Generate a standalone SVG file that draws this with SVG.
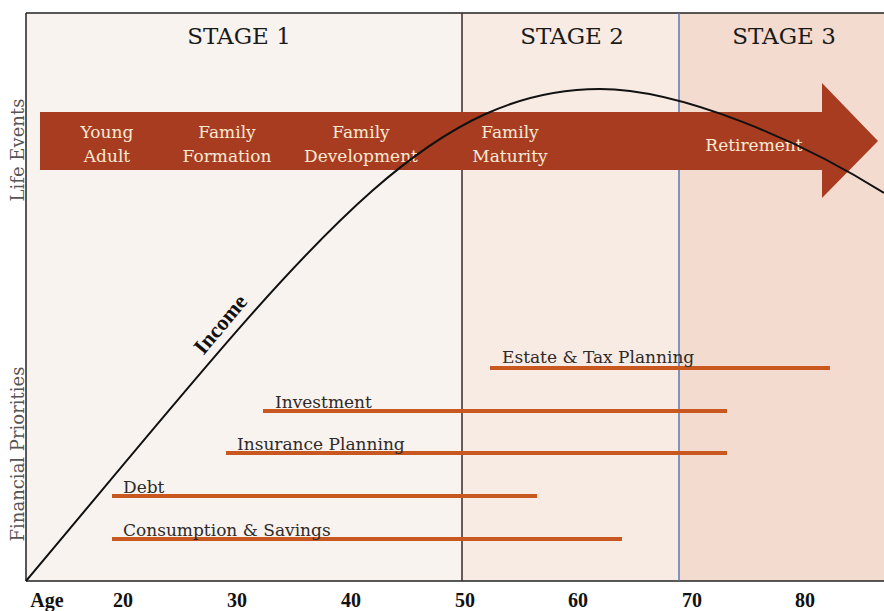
<svg xmlns="http://www.w3.org/2000/svg" width="884" height="611" viewBox="0 0 884 611">
<style>
.stage{font-family:"DejaVu Serif","Liberation Serif",serif;font-size:23px;fill:#1a1a1a;text-anchor:middle}
.ev{font-family:"DejaVu Serif","Liberation Serif",serif;font-size:17px;fill:#f7e9d3;text-anchor:middle}
.pr{font-family:"DejaVu Serif","Liberation Serif",serif;font-size:17px;fill:#2e2a28}
.side{font-family:"DejaVu Serif","Liberation Serif",serif;font-size:18px;fill:#555;text-anchor:middle}
.age{font-family:"Liberation Serif",serif;font-size:20px;font-weight:bold;fill:#111;text-anchor:middle}
.bar{stroke:#c8581f;stroke-width:4;fill:none}
</style>
<rect x="0" y="0" width="884" height="611" fill="#ffffff"/>
<g id="backgrounds">
<rect x="26" y="13" width="436" height="568" fill="#f9f3f0"/>
<rect x="462" y="13" width="217" height="568" fill="#f7ebe3"/>
<rect x="679" y="13" width="205" height="568" fill="#f3dccf"/>
</g>
<g id="frame" fill="none">
<line x1="26" y1="13" x2="884" y2="13" stroke="#222" stroke-width="1.5"/>
<line x1="26" y1="13" x2="26" y2="581" stroke="#222" stroke-width="1.5"/>
<line x1="26" y1="581" x2="884" y2="581" stroke="#222" stroke-width="1.5"/>
<line x1="462" y1="13" x2="462" y2="581" stroke="#3a2a28" stroke-width="1.5"/>
<line x1="679" y1="13" x2="679" y2="581" stroke="#5a78b5" stroke-width="1.5"/>
</g>
<g id="stages">
<text class="stage" x="239" y="44">STAGE 1</text>
<text class="stage" x="572" y="44">STAGE 2</text>
<text class="stage" x="784" y="44">STAGE 3</text>
</g>
<g id="side-labels">
<text class="side" transform="translate(24,150) rotate(-90)">Life Events</text>
<text class="side" transform="translate(24,454) rotate(-90)">Financial Priorities</text>
</g>
<g id="life-events-arrow">
<path d="M40,112 H822 V83 L878,141 L822,198 V170 H40 Z" fill="#a73c21"/>
<text class="ev" x="107" y="138">Young</text>
<text class="ev" x="107" y="162">Adult</text>
<text class="ev" x="227" y="138">Family</text>
<text class="ev" x="227" y="162">Formation</text>
<text class="ev" x="361" y="138">Family</text>
<text class="ev" x="361" y="162">Development</text>
<text class="ev" x="510" y="138">Family</text>
<text class="ev" x="510" y="162">Maturity</text>
<text class="ev" x="754" y="151">Retirement</text>
</g>
<g id="connectors">
<path id="income-curve" d="M26,581 C300,255 420,89 600,89 C680,89 800,140 884,193" fill="none" stroke="#111" stroke-width="2"/>
<line class="bar" x1="490" y1="368" x2="830" y2="368"/>
<line class="bar" x1="263" y1="411" x2="727" y2="411"/>
<line class="bar" x1="226" y1="453" x2="727" y2="453"/>
<line class="bar" x1="112" y1="496" x2="537" y2="496"/>
<line class="bar" x1="112" y1="539" x2="622" y2="539"/>
</g>
<g id="income-label">
<text transform="translate(226,329) rotate(-50)" text-anchor="middle" font-family="Liberation Serif, serif" font-weight="bold" font-size="22" fill="#111">Income</text>
</g>
<g id="priorities">
<text class="pr" x="502" y="363">Estate &amp; Tax Planning</text>
<text class="pr" x="275" y="408">Investment</text>
<text class="pr" x="237" y="450">Insurance Planning</text>
<text class="pr" x="123" y="493">Debt</text>
<text class="pr" x="123" y="536">Consumption &amp; Savings</text>
</g>
<g id="ages">
<text class="age" x="47" y="607">Age</text>
<text class="age" x="123" y="607">20</text>
<text class="age" x="237" y="607">30</text>
<text class="age" x="351" y="607">40</text>
<text class="age" x="465" y="607">50</text>
<text class="age" x="578" y="607">60</text>
<text class="age" x="692" y="607">70</text>
<text class="age" x="805" y="607">80</text>
</g>
</svg>
